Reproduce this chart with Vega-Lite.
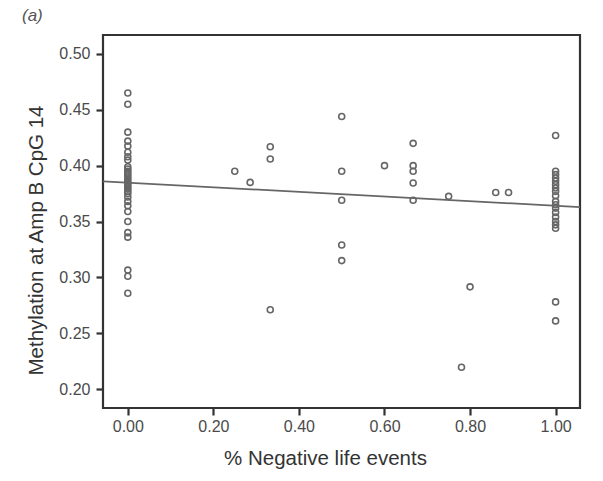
{
  "$schema": "https://vega.github.io/schema/vega-lite/v6.json",
  "autosize": {"type": "none"},
  "padding": {"left": 103, "top": 35, "right": 23, "bottom": 73},
  "width": 477,
  "height": 373,
  "background": "white",
  "title": {"text": "(a)", "anchor": "start", "frame": "group", "dx": -81, "offset": 10, "font": "Liberation Sans", "fontSize": 17, "fontStyle": "italic", "fontWeight": "normal", "color": "#555"},
  "config": {
    "view": {"stroke": "#333", "strokeWidth": 2.2},
    "axis": {"labelFont": "Liberation Sans", "titleFont": "Liberation Sans", "labelFontSize": 16, "titleFontSize": 20.5, "titleFontWeight": "normal", "labelColor": "#4a4a4a", "titleColor": "#333", "tickColor": "#333", "tickWidth": 2.2, "tickSize": 7, "domain": false, "grid": false}
  },
  "datasets": {
    "points": [
      {"neg": 0, "meth": 0.465}, {"neg": 0, "meth": 0.455}, {"neg": 0, "meth": 0.430}, {"neg": 0, "meth": 0.422},
      {"neg": 0, "meth": 0.4175}, {"neg": 0, "meth": 0.412}, {"neg": 0, "meth": 0.408}, {"neg": 0, "meth": 0.405},
      {"neg": 0, "meth": 0.399}, {"neg": 0, "meth": 0.397}, {"neg": 0, "meth": 0.395}, {"neg": 0, "meth": 0.393},
      {"neg": 0, "meth": 0.391}, {"neg": 0, "meth": 0.389}, {"neg": 0, "meth": 0.387}, {"neg": 0, "meth": 0.385},
      {"neg": 0, "meth": 0.383}, {"neg": 0, "meth": 0.381}, {"neg": 0, "meth": 0.379}, {"neg": 0, "meth": 0.377},
      {"neg": 0, "meth": 0.375}, {"neg": 0, "meth": 0.372}, {"neg": 0, "meth": 0.368}, {"neg": 0, "meth": 0.364},
      {"neg": 0, "meth": 0.359}, {"neg": 0, "meth": 0.350}, {"neg": 0, "meth": 0.340}, {"neg": 0, "meth": 0.336},
      {"neg": 0, "meth": 0.3065}, {"neg": 0, "meth": 0.301}, {"neg": 0, "meth": 0.2857},
      {"neg": 0.25, "meth": 0.395}, {"neg": 0.286, "meth": 0.385},
      {"neg": 0.333, "meth": 0.417}, {"neg": 0.333, "meth": 0.406}, {"neg": 0.333, "meth": 0.271},
      {"neg": 0.5, "meth": 0.444}, {"neg": 0.5, "meth": 0.395}, {"neg": 0.5, "meth": 0.369}, {"neg": 0.5, "meth": 0.329}, {"neg": 0.5, "meth": 0.315},
      {"neg": 0.6, "meth": 0.400},
      {"neg": 0.667, "meth": 0.420}, {"neg": 0.667, "meth": 0.400}, {"neg": 0.667, "meth": 0.395}, {"neg": 0.667, "meth": 0.3845}, {"neg": 0.667, "meth": 0.369},
      {"neg": 0.75, "meth": 0.3725},
      {"neg": 0.78, "meth": 0.2195},
      {"neg": 0.8, "meth": 0.2915},
      {"neg": 0.86, "meth": 0.376}, {"neg": 0.89, "meth": 0.376},
      {"neg": 1, "meth": 0.427}, {"neg": 1, "meth": 0.395}, {"neg": 1, "meth": 0.392}, {"neg": 1, "meth": 0.389},
      {"neg": 1, "meth": 0.386}, {"neg": 1, "meth": 0.383}, {"neg": 1, "meth": 0.380}, {"neg": 1, "meth": 0.377},
      {"neg": 1, "meth": 0.373}, {"neg": 1, "meth": 0.368}, {"neg": 1, "meth": 0.365}, {"neg": 1, "meth": 0.362},
      {"neg": 1, "meth": 0.358}, {"neg": 1, "meth": 0.354}, {"neg": 1, "meth": 0.350}, {"neg": 1, "meth": 0.347},
      {"neg": 1, "meth": 0.344}, {"neg": 1, "meth": 0.278}, {"neg": 1, "meth": 0.261}
    ],
    "fit": [
      {"neg": -0.058, "meth": 0.386},
      {"neg": 1.057, "meth": 0.3629}
    ]
  },
  "layer": [
    {
      "data": {"name": "fit"},
      "mark": {"type": "line", "color": "#666", "strokeWidth": 1.8},
      "encoding": {
        "x": {"field": "neg", "type": "quantitative"},
        "y": {"field": "meth", "type": "quantitative"}
      }
    },
    {
      "data": {"name": "points"},
      "mark": {"type": "point", "shape": "circle", "filled": false, "color": "#666", "strokeWidth": 1.6, "size": 36, "opacity": 1},
      "encoding": {
        "x": {"field": "neg", "type": "quantitative", "scale": {"domain": [-0.058, 1.057], "nice": false, "zero": false},
              "axis": {"title": "% Negative life events", "values": [0, 0.2, 0.4, 0.6, 0.8, 1.0], "format": ".2f", "labelPadding": 3, "titlePadding": 14, "titleX": 222}},
        "y": {"field": "meth", "type": "quantitative", "scale": {"domain": [0.183, 0.517], "nice": false, "zero": false},
              "axis": {"title": "Methylation at Amp B CpG 14", "values": [0.2, 0.25, 0.3, 0.35, 0.4, 0.45, 0.5], "format": ".2f", "labelPadding": 6, "titlePadding": 12, "titleY": 205}}
      }
    }
  ]
}
